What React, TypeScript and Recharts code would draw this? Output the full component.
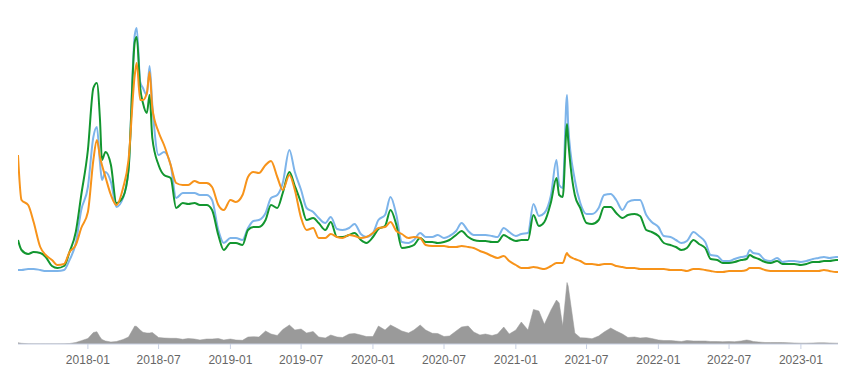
import React from "react"
import {
  ComposedChart,
  Line,
  Area,
  XAxis,
  YAxis,
} from "recharts"

// sample dates (roughly twice a month, a few extra around the spikes)
const dates = [
  "2017-07-06", "2017-07-15", "2017-08-01", "2017-08-15", "2017-09-01", "2017-09-15",
  "2017-10-01", "2017-10-15", "2017-11-01", "2017-11-15", "2017-12-01", "2017-12-15",
  "2018-01-01", "2018-01-15", "2018-01-24", "2018-02-01", "2018-02-06", "2018-02-15",
  "2018-03-01", "2018-03-15", "2018-04-01", "2018-04-15", "2018-05-01", "2018-05-06",
  "2018-05-15", "2018-05-22", "2018-06-01", "2018-06-08", "2018-06-15", "2018-07-01",
  "2018-07-15", "2018-08-01", "2018-08-15", "2018-09-01", "2018-09-15", "2018-10-01",
  "2018-10-15", "2018-11-01", "2018-11-15", "2018-12-01", "2018-12-15",
  "2019-01-01", "2019-01-15", "2019-02-01", "2019-02-15", "2019-03-01", "2019-03-15",
  "2019-04-01", "2019-04-15", "2019-05-01", "2019-05-15", "2019-06-01", "2019-06-15",
  "2019-07-01", "2019-07-15", "2019-08-01", "2019-08-15", "2019-09-01", "2019-09-15",
  "2019-10-01", "2019-10-15", "2019-11-01", "2019-11-15", "2019-12-01", "2019-12-15",
  "2020-01-01", "2020-01-15", "2020-02-01", "2020-02-15", "2020-03-01", "2020-03-15",
  "2020-04-01", "2020-04-15", "2020-05-01", "2020-05-15", "2020-06-01", "2020-06-15",
  "2020-07-01", "2020-07-15", "2020-08-01", "2020-08-15", "2020-09-01", "2020-09-15",
  "2020-10-01", "2020-10-15", "2020-11-01", "2020-11-15", "2020-12-01", "2020-12-15",
  "2021-01-01", "2021-01-15", "2021-02-01", "2021-02-15", "2021-03-01", "2021-03-15",
  "2021-04-01", "2021-04-15", "2021-04-22", "2021-05-01", "2021-05-12", "2021-05-15",
  "2021-06-01", "2021-06-15", "2021-07-01", "2021-07-15", "2021-08-01", "2021-08-15",
  "2021-09-01", "2021-09-15", "2021-10-01", "2021-10-15", "2021-11-01", "2021-11-15",
  "2021-12-01", "2021-12-15",
  "2022-01-01", "2022-01-15", "2022-02-01", "2022-02-15", "2022-03-01", "2022-03-15",
  "2022-04-01", "2022-04-15", "2022-05-01", "2022-05-15", "2022-06-01", "2022-06-15",
  "2022-07-01", "2022-07-15", "2022-08-01", "2022-08-15", "2022-08-23", "2022-09-01",
  "2022-09-15", "2022-10-01", "2022-10-15", "2022-11-01", "2022-11-15", "2022-12-01",
  "2022-12-15",
  "2023-01-01", "2023-01-15", "2023-02-01", "2023-02-15", "2023-03-01", "2023-03-15",
  "2023-04-01", "2023-04-06",
]

const blueValues = [
  1.0, 1.0, 1.1, 1.1, 1.0, 0.9, 0.9, 0.9, 1.0, 2.0, 3.7, 7.0,
  9.3, 14.3, 15.3, 11.7, 10.0, 10.8, 9.8, 7.3, 8.2, 11.0, 24.5, 25.2,
  19.8, 19.2, 18.5, 21.4, 17.5, 12.5, 12.8, 11.5, 8.2, 8.7, 8.7, 8.7,
  8.5, 8.5, 8.0, 5.0, 3.7,
  4.2, 4.2, 4.0, 5.2, 5.9, 6.0, 6.7, 8.2, 8.5, 9.7, 13.0, 10.8,
  9.0, 7.2, 6.8, 6.2, 5.7, 6.3, 5.1, 5.0, 5.2, 5.6, 4.6, 4.3,
  4.7, 6.0, 6.5, 8.3, 6.5, 3.8, 3.7, 4.0, 4.7, 4.3, 4.3, 4.5,
  4.2, 4.4, 4.9, 5.7, 4.9, 4.5, 4.5, 4.5, 4.4, 4.3, 5.2, 4.8,
  4.4, 4.6, 4.7, 7.6, 6.4, 6.7, 8.5, 12.0, 9.5, 9.2, 18.5, 15.5,
  10.0, 7.7, 6.6, 6.6, 7.2, 8.5, 8.6, 8.0, 7.0, 7.8, 8.0, 8.0,
  6.5, 5.8,
  5.3, 4.4, 4.3, 4.0, 3.7, 3.9, 4.8, 4.4, 3.8, 2.5, 2.4, 1.9,
  1.9, 2.1, 2.3, 2.4, 3.0, 2.7, 2.6, 2.0, 1.9, 2.2, 1.8, 1.9,
  1.9,
  1.8, 1.9, 2.1, 2.2, 2.3, 2.2, 2.3, 2.3,
]

const greenValues = [
  4.0, 3.0, 2.6, 2.8, 2.7, 2.3, 1.4, 1.2, 1.4, 2.8, 4.8, 8.5,
  13.0, 19.2, 19.7, 16.0, 12.0, 12.8, 11.5, 7.7, 8.3, 11.0, 23.8, 24.3,
  19.2, 17.7, 16.7, 18.5, 14.2, 11.5, 10.5, 10.2, 7.2, 7.7, 7.6, 7.7,
  7.5, 7.5, 7.0, 4.5, 3.0,
  3.7, 3.7, 3.5, 5.0, 5.3, 5.3, 6.0, 7.5, 7.2, 8.7, 10.8, 9.4,
  7.7, 6.0, 6.2, 5.7, 5.0, 5.8, 4.3, 4.3, 4.5, 4.7, 4.0, 3.7,
  4.3, 5.1, 5.4, 7.0, 5.5, 3.2, 3.3, 3.5, 4.2, 3.8, 3.8, 3.7,
  3.8, 4.0, 4.5, 4.9, 4.3, 4.0, 3.9, 3.9, 3.8, 3.8, 4.5, 4.2,
  3.9, 4.0, 4.0, 6.5, 5.4, 5.8, 7.8, 10.2, 8.5, 8.3, 15.6, 14.0,
  8.5, 7.2, 5.7, 5.6, 6.0, 7.3, 7.3, 6.7, 6.2, 6.5, 6.6, 6.4,
  5.0, 4.8,
  4.4, 3.7, 3.5, 3.3, 3.0, 3.2, 4.0, 3.6, 3.2, 2.1, 2.0, 1.7,
  1.7, 1.8, 2.0, 2.1, 2.5, 2.3, 2.1, 1.8, 1.7, 1.9, 1.6, 1.6,
  1.6,
  1.5, 1.6, 1.8, 1.8, 1.9, 1.9, 2.0, 2.0,
]

const orangeValues = [
  12.5, 8.0, 7.5, 5.8, 3.3, 2.5, 2.0, 1.5, 1.6, 2.8, 3.5, 5.2,
  6.8, 12.0, 14.0, 12.3, 11.5, 10.3, 8.5, 7.5, 9.2, 12.0, 20.5, 21.7,
  18.0, 18.0, 18.7, 20.8, 17.2, 14.8, 13.5, 11.5, 9.7, 9.5, 9.5, 9.9,
  9.7, 9.7, 9.3, 7.5, 7.0,
  8.0, 7.8, 8.5, 10.3, 10.8, 10.7, 11.5, 11.9, 10.3, 9.0, 10.5, 9.0,
  6.2, 5.0, 5.2, 4.2, 4.2, 4.6, 4.3, 4.2, 4.5, 4.4, 4.2, 4.3,
  4.7, 5.2, 5.3, 5.8, 4.9, 4.6, 4.2, 4.3, 4.2, 3.5, 3.4, 3.4,
  3.4, 3.3, 3.3, 3.4, 3.3, 3.2, 2.9, 2.7, 2.4, 2.2, 2.4, 1.9,
  1.5, 1.2, 1.2, 1.3, 1.2, 1.1, 1.4, 1.7, 1.7, 1.7, 2.7, 2.5,
  2.1, 1.9, 1.6, 1.6, 1.5, 1.6, 1.6, 1.4, 1.3, 1.2, 1.2, 1.1,
  1.1, 1.1,
  1.1, 1.1, 1.0, 1.0, 1.0, 0.9, 1.1, 1.1, 1.0, 0.9, 0.8, 0.8,
  0.9, 0.9, 0.9, 1.0, 1.2, 1.2, 1.2, 1.0, 0.9, 0.9, 0.9, 0.9,
  0.9,
  0.9, 0.9, 0.9, 0.9, 1.0, 0.9, 0.8, 0.8,
]

const volumeValues = [
  6.5, 3.5, 1.5, 1, 1, 1, 1, 1, 1.5, 2.5, 7.5, 16.5,
  27.5, 57.5, 61.5, 35, 22.5, 15, 10, 12.5, 22.5, 35, 90, 87.5,
  70, 58.5, 55, 55, 57.5, 32.5, 30, 28.5, 28.5, 23.5, 27.5, 25,
  20, 25, 25, 27.5, 20,
  25, 20, 18.5, 35, 36.5, 35, 65, 50, 42.5, 72.5, 95, 70,
  75, 55, 62.5, 35, 30, 45, 35, 32.5, 50, 52.5, 45, 37.5,
  37.5, 90, 70, 95, 80, 65, 55, 70, 95, 70, 53.5, 52.5,
  37.5, 40, 65, 85, 90, 60, 45, 50, 42.5, 50, 85, 50,
  70, 110, 70, 172.5, 165, 98.5, 170, 220, 205, 90, 307.5, 290,
  55, 31.5, 30, 26.5, 40, 60, 80, 65, 50, 32.5, 35, 30,
  32.5, 27.5,
  20, 17.5, 17.5, 15, 12.5, 17.5, 15, 15, 15, 12.5, 12.5, 11.5,
  12.5, 11.5, 15, 20, 17.5, 12.5, 10, 7.5, 7.5, 7.5, 7.5, 6,
  5,
  4, 4, 5, 6, 6, 5, 4, 4,
]

const tickLabels = [
  "2018-01", "2018-07", "2019-01", "2019-07", "2020-01", "2020-07",
  "2021-01", "2021-07", "2022-01", "2022-07", "2023-01",
]

const chartData = dates.map((d, i) => ({
  t: Date.parse(d),
  blue: blueValues[i],
  green: greenValues[i],
  orange: orangeValues[i],
  volume: volumeValues[i],
}))

const xDomain = [Date.parse(dates[0]), Date.parse(dates[dates.length - 1])]
const xTicks = tickLabels.map(l => Date.parse(l + "-01"))
const formatMonth = (t: number) => new Date(t).toISOString().slice(0, 7)

export default function App() {
  return (
    <div style={{ position: "absolute", left: 0, top: 0, width: 852, height: 380, background: "#fff" }}>
      <ComposedChart
        width={852}
        height={380}
        data={chartData}
        margin={{ top: 20, right: 14, bottom: 6, left: 18 }}
      >
        <XAxis
          dataKey="t"
          type="number"
          domain={xDomain}
          ticks={xTicks}
          interval={0}
          tickFormatter={formatMonth}
          height={30}
          tickSize={5}
          tickMargin={6}
          axisLine={{ stroke: "#c8d0e3" }}
          tickLine={{ stroke: "#c8d0e3" }}
          tick={{ fill: "#666", fontSize: 12, fontFamily: "'Liberation Sans', Arial, sans-serif" }}
          allowDataOverflow
        />
        <YAxis yAxisId="price" hide domain={[-6.4, 26]} allowDataOverflow />
        <YAxis yAxisId="vol" hide domain={[0, 1620]} allowDataOverflow />

        <Area
          yAxisId="vol"
          type="linear"
          dataKey="volume"
          stroke="#999"
          strokeWidth={0.5}
          fill="#9a9a9a"
          fillOpacity={1}
          dot={false}
          activeDot={false}
          isAnimationActive={false}
        />
        <Line
          yAxisId="price"
          type="monotone"
          dataKey="blue"
          stroke="#7db4ea"
          strokeWidth={2}
          dot={false}
          activeDot={false}
          isAnimationActive={false}
        />
        <Line
          yAxisId="price"
          type="monotone"
          dataKey="green"
          stroke="#12962f"
          strokeWidth={2}
          dot={false}
          activeDot={false}
          isAnimationActive={false}
        />
        <Line
          yAxisId="price"
          type="monotone"
          dataKey="orange"
          stroke="#f7931a"
          strokeWidth={2}
          dot={false}
          activeDot={false}
          isAnimationActive={false}
        />
      </ComposedChart>
    </div>
  )
}
